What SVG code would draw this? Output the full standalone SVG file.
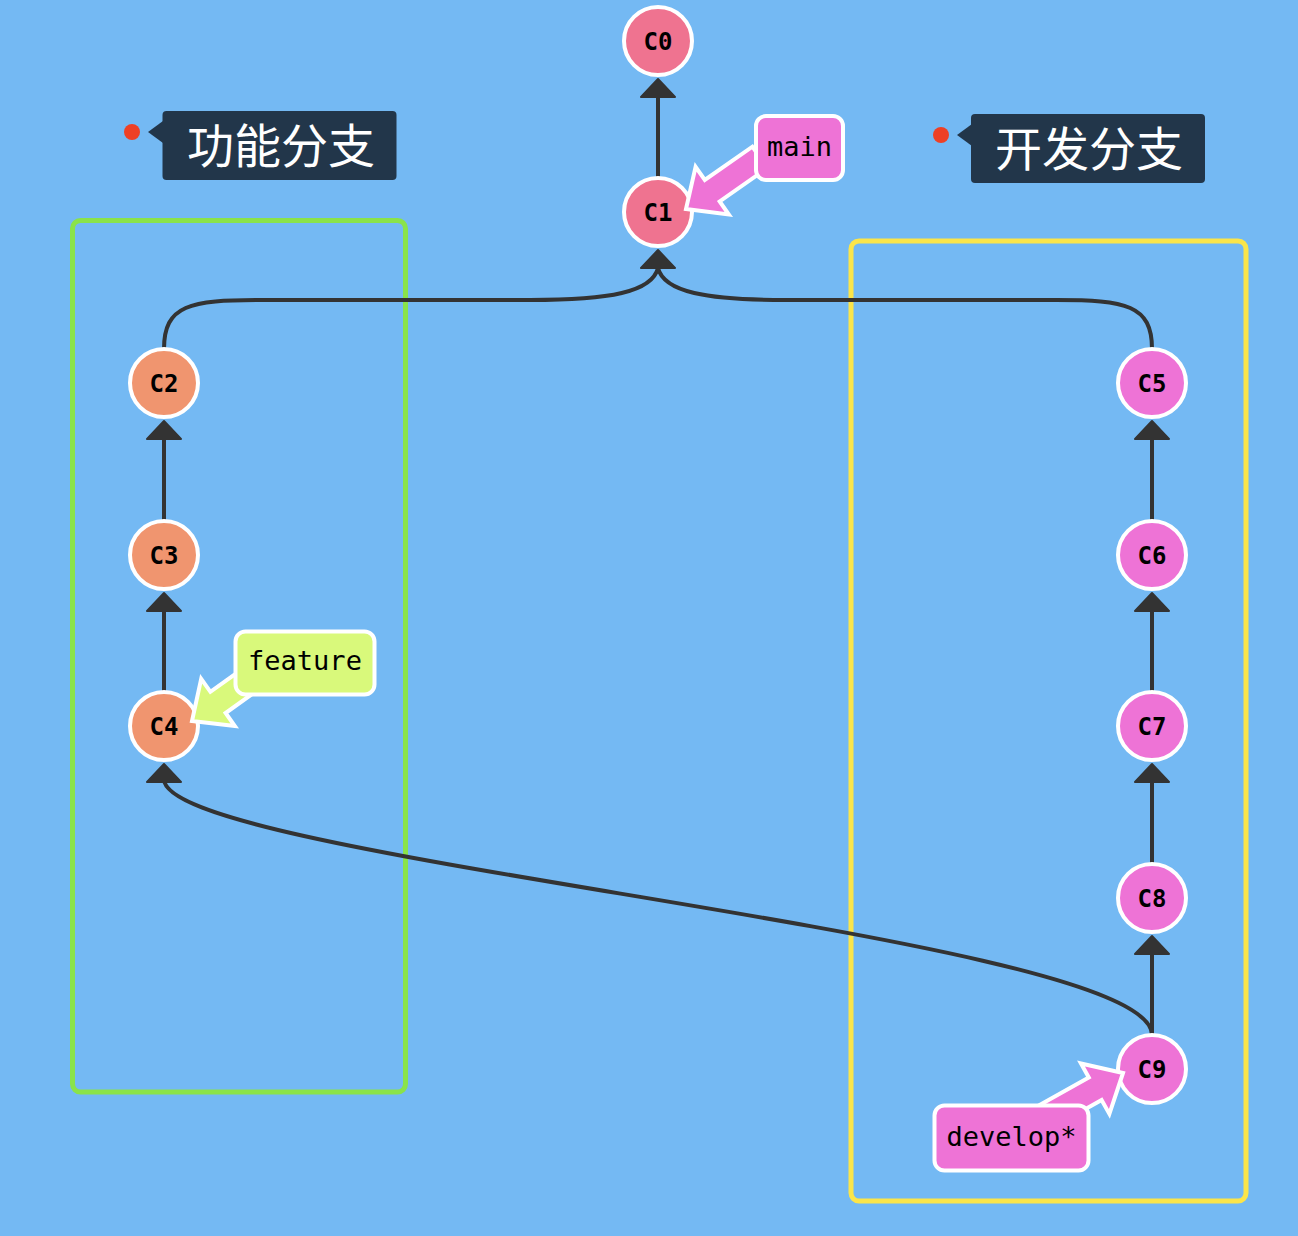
<svg xmlns="http://www.w3.org/2000/svg" width="1298" height="1236" viewBox="0 0 1298 1236">
<defs>
<style>
.edge{fill:none;stroke:#333333;stroke-width:4}
.head{fill:#333333;stroke:#333333;stroke-width:2;stroke-linejoin:round}
.node circle{stroke:#ffffff;stroke-width:4}
.node text{font-family:"DejaVu Sans Mono","Liberation Mono",monospace;font-weight:bold;font-size:24px;fill:#000000;text-anchor:middle}
.ma{fill:#ee73d6}
.mb{fill:#ef7390}
.mc{fill:#f0956f}
.br rect{stroke:#ffffff;stroke-width:4}
.br polygon{stroke:#ffffff;stroke-width:4;stroke-linejoin:miter}
.br text{font-family:"DejaVu Sans Mono","Liberation Mono",monospace;font-size:27px;fill:#000000;text-anchor:middle}
.tag text{font-family:"Noto Sans CJK SC","Noto Sans",sans-serif;font-size:47px;fill:#ffffff;text-anchor:middle}
.frame{fill:none;stroke-width:5}
</style>
</defs>
<rect x="0" y="0" width="1298" height="1236" fill="#74b9f3"/>

<g id="frames">
<rect class="frame" x="72.5" y="220.5" width="333" height="871.5" rx="8" stroke="#8ae34a"/>
<rect class="frame" x="851" y="241" width="395" height="960" rx="8" stroke="#fbe54a"/>
</g>

<g id="connectors">
<path class="edge" d="M658,178 L658,94"/>
<path class="edge" d="M164,349 C164,305 190,300 260,300 L530,300 C610,300 652,292 658,268"/>
<path class="edge" d="M1152,349 C1152,305 1126,300 1056,300 L786,300 C706,300 664,292 658,268"/>
<path class="edge" d="M164,521 L164,436"/>
<path class="edge" d="M164,692 L164,608"/>
<path class="edge" d="M1152,521 L1152,436"/>
<path class="edge" d="M1152,692 L1152,608"/>
<path class="edge" d="M1152,864 L1152,779"/>
<path class="edge" d="M1152,1035 L1152,951"/>
<path class="edge" d="M1152,1035 C1152,935 164,860 164,779"/>
<polygon class="head" points="658,79 641,97 675,97"/>
<polygon class="head" points="658,250 641,268 675,268"/>
<polygon class="head" points="164,421 147,439 181,439"/>
<polygon class="head" points="164,593 147,611 181,611"/>
<polygon class="head" points="164,764 147,782 181,782"/>
<polygon class="head" points="1152,421 1135,439 1169,439"/>
<polygon class="head" points="1152,593 1135,611 1169,611"/>
<polygon class="head" points="1152,764 1135,782 1169,782"/>
<polygon class="head" points="1152,936 1135,954 1169,954"/>
</g>

<g id="C0" class="node"><circle class="mb" cx="658" cy="41" r="34"/><text x="658" y="49.5">C0</text></g>
<g id="C1" class="node"><circle class="mb" cx="658" cy="212" r="34"/><text x="658" y="220.5">C1</text></g>
<g id="C2" class="node"><circle class="mc" cx="164" cy="383" r="34"/><text x="164" y="391.5">C2</text></g>
<g id="C3" class="node"><circle class="mc" cx="164" cy="555" r="34"/><text x="164" y="563.5">C3</text></g>
<g id="C4" class="node"><circle class="mc" cx="164" cy="726" r="34"/><text x="164" y="734.5">C4</text></g>
<g id="C5" class="node"><circle class="ma" cx="1152" cy="383" r="34"/><text x="1152" y="391.5">C5</text></g>
<g id="C6" class="node"><circle class="ma" cx="1152" cy="555" r="34"/><text x="1152" y="563.5">C6</text></g>
<g id="C7" class="node"><circle class="ma" cx="1152" cy="726" r="34"/><text x="1152" y="734.5">C7</text></g>
<g id="C8" class="node"><circle class="ma" cx="1152" cy="898" r="34"/><text x="1152" y="906.5">C8</text></g>
<g id="C9" class="node"><circle class="ma" cx="1152" cy="1069" r="34"/><text x="1152" y="1077.5">C9</text></g>

<g id="branch-main" class="br">
<polygon class="ma" points="686,209 728.8,214.5 719.7,201.4 767.3,168.1 752.4,146.7 704.8,180 695.6,166.9"/>
<rect class="ma" x="756" y="116" width="87" height="64" rx="10"/>
<text x="799.5" y="156">main</text>
</g>

<g id="branch-feature" class="br">
<polygon fill="#d9f97b" points="192,721 234.8,726 225.6,713 272.8,679.3 257.7,658.1 210.4,691.8 201.2,678.8"/>
<rect fill="#d9f97b" x="235.5" y="631.5" width="139" height="63" rx="10"/>
<text x="305" y="670">feature</text>
</g>

<g id="branch-develop" class="br">
<polygon class="ma" points="1123,1073 1109.4,1113.9 1101.6,1100 1051.1,1128.4 1038.3,1105.8 1088.8,1077.4 1081,1063.5"/>
<rect class="ma" x="934.5" y="1105.5" width="154" height="65" rx="10"/>
<text x="1011.5" y="1146">develop*</text>
</g>

<g id="tag-feature" class="tag">
<circle cx="132" cy="132" r="8" fill="#ee4025"/>
<polygon points="148,132 163,121 163,143" fill="#22364a"/>
<rect x="162.5" y="111" width="234" height="69" rx="4" fill="#22364a"/>
<text x="281" y="163">功能分支</text>
</g>

<g id="tag-develop" class="tag">
<circle cx="941" cy="135" r="8" fill="#ee4025"/>
<polygon points="957,135 972,124 972,146" fill="#22364a"/>
<rect x="971" y="114" width="234" height="69" rx="4" fill="#22364a"/>
<text x="1089" y="166">开发分支</text>
</g>
</svg>
